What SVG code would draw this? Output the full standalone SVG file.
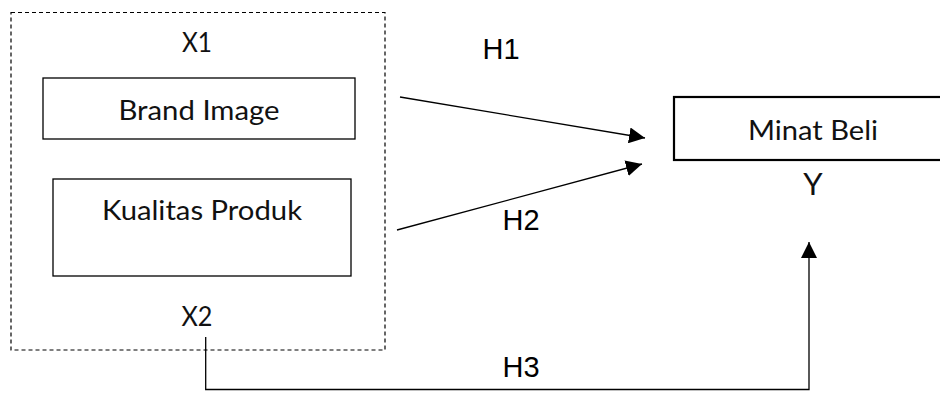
<svg xmlns="http://www.w3.org/2000/svg" width="940" height="395" viewBox="0 0 940 395">
<defs>
<style>
.box{fill:#fff;stroke:#000;stroke-width:1.3}
.cal{font-family:Lato,"Open Sans","Liberation Sans",sans-serif;font-size:26px;fill:#111}
.ar{font-family:"Liberation Sans",Arial,sans-serif;font-size:29px;fill:#000}
.ln{fill:none;stroke:#000;stroke-width:1.3}
</style>
<marker id="ah" viewBox="0 0 10 10" refX="10" refY="5" markerWidth="16" markerHeight="16" markerUnits="userSpaceOnUse" orient="auto">
<path d="M0,0 L10,5 L0,10 z" fill="#000"/>
</marker>
</defs>
<rect width="940" height="395" fill="#fff"/>
<g id="group-x">
<rect x="11" y="12.5" width="374" height="337.5" fill="none" stroke="#000" stroke-width="1.2" stroke-dasharray="4,3"/>
<text class="cal" x="197" y="52" text-anchor="middle" textLength="30" lengthAdjust="spacingAndGlyphs">X1</text>
<text class="cal" x="197" y="326" text-anchor="middle" textLength="31" lengthAdjust="spacingAndGlyphs">X2</text>
</g>
<g id="brand-image">
<rect class="box" x="43" y="78" width="312" height="61"/>
<text class="cal" x="199" y="120" text-anchor="middle" textLength="161" lengthAdjust="spacingAndGlyphs">Brand Image</text>
</g>
<g id="kualitas-produk">
<rect class="box" x="53" y="179" width="298" height="97"/>
<text class="cal" x="202" y="220" text-anchor="middle" textLength="200" lengthAdjust="spacingAndGlyphs">Kualitas Produk</text>
</g>
<g id="minat-beli">
<rect x="674" y="97" width="280" height="63" fill="#fff" stroke="#000" stroke-width="2.2"/>
<text class="cal" x="813" y="140" text-anchor="middle" textLength="130" lengthAdjust="spacingAndGlyphs">Minat Beli</text>
<text class="cal" x="813" y="195" text-anchor="middle" style="font-size:31px">Y</text>
</g>
<g id="connectors">
<line class="ln" x1="400" y1="97" x2="645" y2="138" marker-end="url(#ah)"/>
<line class="ln" x1="397" y1="230" x2="642" y2="164" marker-end="url(#ah)"/>
<polyline class="ln" points="205.7,337 205.7,389.5 809,389.5 809,242" marker-end="url(#ah)"/>
<text class="ar" x="501" y="59" text-anchor="middle">H1</text>
<text class="ar" x="521" y="230" text-anchor="middle">H2</text>
<text class="ar" x="521" y="377" text-anchor="middle">H3</text>
</g>
</svg>
